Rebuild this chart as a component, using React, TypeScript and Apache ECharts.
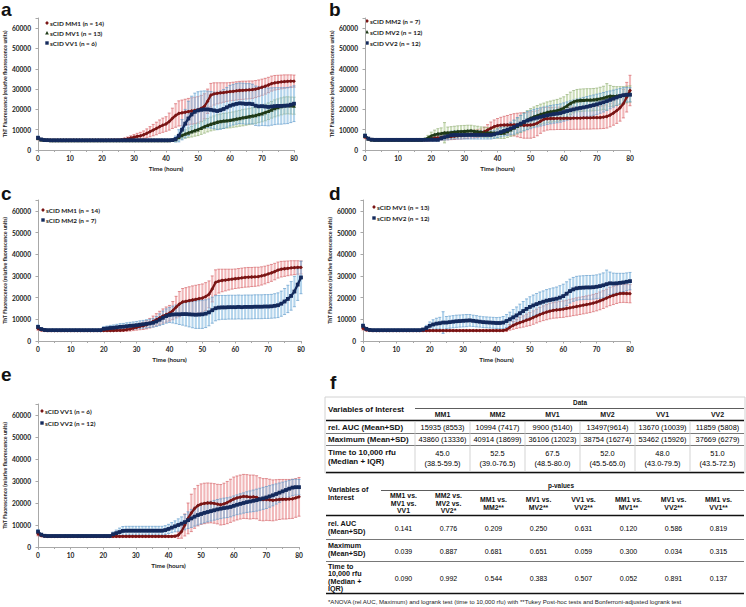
import React, { useEffect, useRef } from "react";
import * as echarts from "echarts";

// ---------- time axis (hours) ----------
const HOURS = Array.from({ length: 81 }, (_, i) => i);

// ---------- mean ThT fluorescence (rfu), hourly 0..80 ----------
const MM1_MEAN = [
  5800, 5100, 4900, 4850, 4800, 4800, 4800, 4800, 4800, 4800,
  4800, 4800, 4800, 4800, 4800, 4800, 4800, 4800, 4800, 4800,
  4800, 4800, 4850, 4850, 4900, 4900, 5000, 5200, 5500, 5900,
  6300, 6700, 7000, 7500, 8200, 9000, 9800, 10600, 11500, 12200,
  12800, 14000, 15600, 17000, 18000, 18300, 18600, 18900, 19200, 19500,
  19800, 20500, 21500, 24000, 27000, 27600, 27900, 28100, 28300, 28500,
  28700, 28900, 29100, 29300, 29400, 29500, 29600, 29700, 30000, 30400,
  30900, 31400, 32000, 32700, 33100, 33300, 33500, 33700, 33800, 33900,
  33900,
];
const MM1_SD = [
  800, 500, 400, 400, 400, 400, 400, 400, 400, 400,
  400, 400, 400, 400, 400, 400, 400, 400, 400, 400,
  400, 400, 450, 450, 500, 500, 550, 700, 900, 1100,
  1300, 1500, 1700, 1900, 2200, 2500, 2800, 3100, 3300, 3500,
  3600, 4200, 5000, 5800, 6200, 6300, 6400, 6500, 6500, 6500,
  6500, 6400, 6200, 6000, 5800, 5500, 5200, 5000, 4800, 4600,
  4500, 4500, 4500, 4500, 4500, 4400, 4400, 4300, 4200, 4100,
  4000, 3900, 3800, 3700, 3600, 3500, 3400, 3300, 3200, 3100,
  3000,
];
const MV1_MEAN = [
  5900, 5100, 4900, 4850, 4800, 4800, 4800, 4800, 4800, 4800,
  4800, 4800, 4800, 4800, 4800, 4800, 4800, 4800, 4800, 4800,
  4800, 4800, 4800, 4800, 4800, 4800, 4800, 4800, 4800, 4800,
  4800, 4800, 4800, 4800, 4800, 4800, 4800, 4800, 4800, 4800,
  4800, 4800, 4850, 5200, 6300, 7200, 7900, 8500, 9000, 9600,
  10100, 10800, 11500, 12200, 12800, 13300, 13800, 14100, 14300, 14500,
  14700, 15000, 15300, 15600, 15900, 16200, 16500, 16800, 17100, 17500,
  17900, 18500, 19100, 19800, 20500, 21000, 21500, 21900, 22000, 21900,
  21800,
];
const MV1_SD = [
  800, 500, 400, 400, 400, 400, 400, 400, 400, 400,
  400, 400, 400, 400, 400, 400, 400, 400, 400, 400,
  400, 400, 400, 400, 400, 400, 400, 400, 400, 400,
  400, 400, 400, 400, 400, 400, 400, 400, 400, 400,
  400, 400, 450, 800, 1300, 1800, 2100, 2400, 2600, 2800,
  3000, 3100, 3200, 3300, 3400, 3500, 3600, 3600, 3700, 3700,
  3800, 3800, 3900, 3900, 4000, 4000, 4000, 4000, 4000, 4000,
  4000, 4100, 4100, 4100, 4200, 4200, 4200, 4200, 4200, 4200,
  4200,
];
const VV1_MEAN = [
  6000, 5200, 4900, 4850, 4800, 4800, 4800, 4800, 4800, 4800,
  4800, 4800, 4800, 4800, 4800, 4800, 4800, 4800, 4800, 4800,
  4800, 4800, 4800, 4800, 4800, 4800, 4800, 4800, 4800, 4800,
  4800, 4800, 4800, 4800, 4800, 4800, 4800, 4800, 4800, 4800,
  4800, 4800, 4900, 5400, 7000, 10000, 13000, 15500, 17500, 18800,
  19500, 19800, 20000, 20000, 19800, 19500, 19200, 19600, 20200, 21000,
  21800, 22300, 22700, 23000, 22900, 22700, 22800, 22600, 21800, 21500,
  21600, 21400, 21200, 21400, 21600, 21700, 21700, 21800, 21900, 22300,
  22800,
];
const VV1_SD = [
  900, 500, 400, 400, 400, 400, 400, 400, 400, 400,
  400, 400, 400, 400, 400, 400, 400, 400, 400, 400,
  400, 400, 400, 400, 400, 400, 400, 400, 400, 400,
  400, 400, 400, 400, 400, 400, 400, 400, 400, 400,
  400, 400, 500, 1500, 3000, 5000, 7000, 8500, 9000, 9200,
  9200, 9200, 9100, 9000, 9000, 9000, 9200, 9400, 9600, 9800,
  10000, 10000, 10000, 10000, 10000, 10000, 9900, 9800, 9700, 9600,
  9500, 9400, 9300, 9200, 9100, 9000, 9000, 8900, 8900, 8800,
  8800,
];
const MM2_MEAN = [
  6500, 5500, 5100, 5000, 5000, 5000, 5000, 5000, 5000, 5000,
  5000, 5000, 5000, 5000, 5000, 5000, 5000, 5000, 5000, 5000,
  5600, 5800, 6000, 6100, 6300, 6500, 6600, 6800, 7000, 7100,
  7300, 7500, 7700, 7900, 8100, 8400, 9000, 9800, 10700, 11500,
  12000, 12200, 12300, 12300, 12400, 12400, 12300, 12200, 12100, 12200,
  12300, 12600, 13200, 14200, 15100, 15400, 15500, 15500, 15600, 15600,
  15600, 15700, 15600, 15700, 15700, 15700, 15800, 15800, 15800, 15900,
  15900, 16000, 16200, 16500, 17200, 18200, 19400, 20800, 22800, 26000,
  29300,
];
const MM2_SD = [
  900, 600, 500, 500, 500, 500, 500, 500, 500, 500,
  500, 500, 500, 500, 500, 500, 500, 500, 500, 500,
  1000, 1100, 1200, 1300, 1400, 1500, 1500, 1600, 1600, 1700,
  1700, 1800, 1800, 1900, 1900, 2000, 2300, 2700, 3100, 3300,
  3500, 3900, 4300, 4700, 5100, 5500, 5800, 6100, 6300, 6400,
  6500, 6400, 6200, 6000, 5800, 5600, 5500, 5500, 5500, 5500,
  5500, 5500, 5500, 5500, 5500, 5500, 5500, 5500, 5500, 5500,
  5500, 5500, 5600, 5700, 5800, 6000, 6300, 6600, 7000, 7300,
  7500,
];
const MV2_MEAN = [
  7000, 5600, 5100, 5000, 5000, 5000, 5000, 5000, 5000, 5000,
  5000, 5000, 5000, 5000, 5000, 5000, 5000, 5000, 5300, 6000,
  7000, 7600, 8000, 8200, 8500, 8500, 8700, 8900, 9100, 9200,
  9300, 9400, 9500, 9300, 9100, 8900, 8700, 8600, 8500, 8400,
  8300, 8300, 8500, 9200, 10000, 10900, 11800, 12800, 13800, 14800,
  15700, 16400, 17000, 17600, 18100, 18600, 18900, 19200, 19500, 20000,
  20700, 21800, 23000, 23800, 24300, 24500, 24600, 24700, 24700, 24800,
  25000, 25300, 25700, 26200, 26600, 26500, 26600, 26800, 27000, 27300,
  27600,
];
const MV2_SD = [
  900, 600, 500, 500, 500, 500, 500, 500, 500, 500,
  500, 500, 500, 500, 500, 500, 500, 500, 500, 1200,
  1800, 2200, 2500, 2700, 5000, 2800, 2800, 2800, 2800, 2800,
  2800, 2800, 2700, 2600, 2600, 2500, 2500, 2500, 2500, 2500,
  2500, 2600, 2800, 3000, 3300, 3600, 3900, 4200, 4400, 4600,
  4700, 4800, 4900, 5000, 5000, 5100, 5200, 5300, 5400, 5500,
  5500, 5500, 5500, 5500, 5500, 5500, 5500, 5500, 5500, 5500,
  5500, 5600, 5700, 6500, 5200, 4800, 4600, 4400, 4200, 4100,
  4000,
];
const VV2_MEAN = [
  7000, 5600, 5100, 5000, 5000, 5000, 5000, 5000, 5000, 5000,
  5000, 5000, 5000, 5000, 5000, 5000, 5000, 5000, 5000, 5000,
  5000, 5000, 5000, 5800, 6300, 6800, 7300, 7400, 7400, 7400,
  7400, 7400, 7400, 7400, 7400, 7400, 7400, 7400, 7400, 7700,
  8200, 8800, 9400, 10000, 10600, 11300, 12200, 13000, 13800, 14500,
  15000, 15500, 15900, 16300, 16700, 17100, 17400, 17700, 17900, 18200,
  18700, 19200, 19600, 20000, 20400, 20700, 21000, 21300, 21700, 22100,
  22500, 23000, 23500, 24100, 24700, 25300, 25900, 26500, 27000, 27200,
  27200,
];
const VV2_SD = [
  900, 600, 500, 500, 500, 500, 500, 500, 500, 500,
  500, 500, 500, 500, 500, 500, 500, 500, 500, 500,
  500, 500, 500, 1000, 1400, 1800, 2000, 2000, 2000, 2000,
  2000, 2000, 2000, 2000, 2000, 2000, 2000, 2000, 2000, 2000,
  2100, 2300, 2500, 2800, 3100, 3500, 3800, 4100, 4300, 4500,
  4500, 4500, 4500, 4500, 4500, 4500, 4500, 4500, 4500, 4500,
  4500, 4500, 4600, 4600, 4700, 4800, 4900, 5000, 5000, 5000,
  5000, 4900, 4800, 4600, 4400, 4200, 4000, 3800, 3700, 3600,
  3500,
];

// ---------- axis ticks ----------
const Y_MAX = 65000;
const Y_STEP = 10000;
const X_MAX = 80;
const X_STEP = 10;

// ---------- legends ----------
const LEGEND_A = ["sCID MM1 (n = 14)", "sCID MV1 (n = 13)", "sCID VV1 (n = 6)"];
const LEGEND_B = ["sCID MM2 (n = 7)", "sCID MV2 (n = 12)", "sCID VV2 (n = 12)"];
const LEGEND_C = ["sCID MM1 (n = 14)", "sCID MM2 (n = 7)"];
const LEGEND_D = ["sCID MV1 (n = 13)", "sCID MV2 (n = 12)"];
const LEGEND_E = ["sCID VV1 (n = 6)", "sCID VV2 (n = 12)"];

const Y_NAME = "ThT Fluorescence (relative fluorescence units)";
const X_NAME = "Time (hours)";

// ---------- table f (data) ----------
const T1_COLS = ["MM1", "MM2", "MV1", "MV2", "VV1", "VV2"];
const T1_AUC = ["15935 (8553)", "10994 (7417)", "9900 (5140)", "13497(9614)", "13670 (10039)", "11859 (5808)"];
const T1_MAX = ["43860 (13336)", "40914 (18699)", "36106 (12023)", "38754 (16274)", "53462 (15926)", "37669 (6279)"];
const T1_TIME_MED = ["45.0", "52.5", "67.5", "52.0", "48.0", "51.0"];
const T1_TIME_IQR = ["(38.5-59.5)", "(39.0-76.5)", "(48.5-80.0)", "(45.5-65.0)", "(43.0-79.5)", "(43.5-72.5)"];

// ---------- table f (p-values) ----------
const T2_HEADERS = [
  ["MM1 vs.", "MV1 vs.", "VV1"],
  ["MM2 vs.", "MV2 vs.", "VV2*"],
  ["MM1 vs.", "MM2**"],
  ["MV1 vs.", "MV2**"],
  ["VV1 vs.", "VV2**"],
  ["MM1 vs.", "MV1**"],
  ["MV1 vs.", "VV2**"],
  ["MM1 vs.", "VV1**"],
];
const P_AUC = ["0.141", "0.776", "0.209", "0.250", "0.631", "0.120", "0.586", "0.819"];
const P_MAX = ["0.039", "0.887", "0.681", "0.651", "0.059", "0.300", "0.034", "0.315"];
const P_TIME = ["0.090", "0.992", "0.544", "0.383", "0.507", "0.052", "0.891", "0.137"];
const FOOTNOTE =
  "*ANOVA (rel AUC, Maximum) and logrank test (time to 10,000 rfu) with **Tukey Post-hoc tests and Bonferroni-adjusted logrank test";

// ---------- styles ----------
const STYLES: Record<string, { line: string; band: string; cap: string; symbol: string }> = {
  red: { line: "#7a1515", band: "rgba(232,138,142,0.62)", cap: "rgba(210,90,95,0.8)", symbol: "diamond" },
  green: { line: "#1f3a18", band: "rgba(178,204,150,0.65)", cap: "rgba(140,170,110,0.8)", symbol: "triangle" },
  navy: { line: "#142a5c", band: "rgba(128,184,224,0.6)", cap: "rgba(90,150,200,0.8)", symbol: "rect" },
};

const DATA: Record<string, { mean: number[]; sd: number[] }> = {
  MM1: { mean: MM1_MEAN, sd: MM1_SD },
  MV1: { mean: MV1_MEAN, sd: MV1_SD },
  VV1: { mean: VV1_MEAN, sd: VV1_SD },
  MM2: { mean: MM2_MEAN, sd: MM2_SD },
  MV2: { mean: MV2_MEAN, sd: MV2_SD },
  VV2: { mean: VV2_MEAN, sd: VV2_SD },
};

type Panel = {
  letter: string;
  letterX: number;
  letterBase: number;
  grid: { left: number; top: number; width: number; height: number };
  legend: { mx: number; tx: number; ys: number[] };
  names: string[];
  series: { key: string; style: string }[];
};

const PANELS: Panel[] = [
  {
    letter: "a", letterX: 1, letterBase: 15,
    grid: { left: 38, top: 18, width: 256, height: 132 },
    legend: { mx: 47, tx: 50, ys: [23, 33, 43] },
    names: LEGEND_A,
    series: [{ key: "MM1", style: "red" }, { key: "MV1", style: "green" }, { key: "VV1", style: "navy" }],
  },
  {
    letter: "b", letterX: 329, letterBase: 15,
    grid: { left: 365, top: 18, width: 265, height: 132 },
    legend: { mx: 367, tx: 370, ys: [21, 32, 43] },
    names: LEGEND_B,
    series: [{ key: "MM2", style: "red" }, { key: "MV2", style: "green" }, { key: "VV2", style: "navy" }],
  },
  {
    letter: "c", letterX: 1, letterBase: 199,
    grid: { left: 38, top: 200, width: 263, height: 141 },
    legend: { mx: 43, tx: 46, ys: [210, 220] },
    names: LEGEND_C,
    series: [{ key: "MM1", style: "red" }, { key: "MM2", style: "navy" }],
  },
  {
    letter: "d", letterX: 329, letterBase: 199,
    grid: { left: 363, top: 200, width: 267, height: 141 },
    legend: { mx: 374, tx: 377, ys: [207, 218] },
    names: LEGEND_D,
    series: [{ key: "MV1", style: "red" }, { key: "MV2", style: "navy" }],
  },
  {
    letter: "e", letterX: 1, letterBase: 380,
    grid: { left: 38, top: 404, width: 261, height: 143 },
    legend: { mx: 42, tx: 45, ys: [411, 423] },
    names: LEGEND_E,
    series: [{ key: "VV1", style: "red" }, { key: "VV2", style: "navy" }],
  },
];

const AXIS_FONT = "Lato";
const TABLE_FONT = "Liberation Sans";

function makeErrorRender(color: string, capColor: string) {
  return (_params: any, api: any) => {
    const x = api.value(0);
    const lo = api.coord([x, api.value(1)]);
    const hi = api.coord([x, api.value(2)]);
    const cap = 1.5;
    return {
      type: "group",
      children: [
        { type: "line", shape: { x1: lo[0], y1: lo[1], x2: hi[0], y2: hi[1] }, style: { stroke: color, lineWidth: 2.1 } },
        { type: "line", shape: { x1: hi[0] - cap, y1: hi[1], x2: hi[0] + cap, y2: hi[1] }, style: { stroke: capColor, lineWidth: 0.8 } },
        { type: "line", shape: { x1: lo[0] - cap, y1: lo[1], x2: lo[0] + cap, y2: lo[1] }, style: { stroke: capColor, lineWidth: 0.8 } },
      ],
    };
  };
}

function txt(x: number, y: number, text: string, font: string, align = "left", fill = "#111", vAlign = "middle") {
  return {
    type: "text",
    x,
    y,
    silent: true,
    style: { text, font, fill, textAlign: align, textVerticalAlign: vAlign },
  };
}
function hline(x1: number, x2: number, y: number, lw: number, stroke = "#222") {
  return { type: "line", silent: true, shape: { x1, y1: y, x2, y2: y }, style: { stroke, lineWidth: lw } };
}
function vline(x: number, y1: number, y2: number, lw: number, stroke = "#bbb") {
  return { type: "line", silent: true, shape: { x1: x, y1, x2: x, y2 }, style: { stroke, lineWidth: lw } };
}

function legendMarker(style: string, cx: number, cy: number) {
  const c = STYLES[style].line;
  if (style === "red")
    return { type: "polygon", silent: true, shape: { points: [[cx, cy - 1.9], [cx + 1.9, cy], [cx, cy + 1.9], [cx - 1.9, cy]] }, style: { fill: c } };
  if (style === "green")
    return { type: "polygon", silent: true, shape: { points: [[cx, cy - 1.9], [cx + 1.9, cy + 1.5], [cx - 1.9, cy + 1.5]] }, style: { fill: c } };
  return { type: "rect", silent: true, shape: { x: cx - 1.7, y: cy - 1.7, width: 3.4, height: 3.4 }, style: { fill: c } };
}

function buildOption() {
  const grid: any[] = [];
  const xAxis: any[] = [];
  const yAxis: any[] = [];
  const series: any[] = [];
  const graphic: any[] = [];

  PANELS.forEach((p, gi) => {
    grid.push({ ...p.grid, containLabel: false });
    xAxis.push({
      type: "value",
      gridIndex: gi,
      min: 0,
      max: X_MAX,
      interval: X_STEP,
      name: X_NAME,
      nameLocation: "middle",
      nameGap: 15,
      nameTextStyle: { fontFamily: AXIS_FONT, fontWeight: "bold", fontSize: 6.3, color: "#222" },
      axisLine: { show: true, lineStyle: { color: "#a8a8a8", width: 1 } },
      axisTick: { show: true, length: 2.5, lineStyle: { color: "#a8a8a8" } },
      minorTick: { show: true, splitNumber: 2, length: 2, lineStyle: { color: "#a8a8a8" } },
      splitLine: { show: false },
      axisLabel: { margin: 4, fontFamily: AXIS_FONT, fontWeight: "bold", fontSize: 6.6, color: "#222" },
    });
    yAxis.push({
      type: "value",
      gridIndex: gi,
      min: 0,
      max: Y_MAX,
      interval: Y_STEP,
      name: Y_NAME,
      nameLocation: "middle",
      nameGap: 26,
      nameRotate: 90,
      nameTextStyle: { fontFamily: AXIS_FONT, fontWeight: "bold", fontSize: 5.3, color: "#222" },
      axisLine: { show: true, lineStyle: { color: "#a8a8a8", width: 1 } },
      axisTick: { show: true, length: 2.5, lineStyle: { color: "#a8a8a8" } },
      splitLine: { show: false },
      axisLabel: {
        margin: 7,
        fontFamily: AXIS_FONT,
        fontWeight: "bold",
        fontSize: 6.6,
        color: "#222",
        formatter: (v: number) => (v % Y_STEP === 0 ? String(v) : ""),
      },
    });

    p.series.forEach((s) => {
      const d = DATA[s.key];
      const st = STYLES[s.style];
      series.push({
        type: "custom",
        xAxisIndex: gi,
        yAxisIndex: gi,
        silent: true,
        z: 1,
        renderItem: makeErrorRender(st.band, st.cap),
        encode: { x: 0, y: [1, 2] },
        data: HOURS.map((t, i) => [t, d.mean[i] - d.sd[i], d.mean[i] + d.sd[i]]),
      });
    });
    p.series.forEach((s, si) => {
      const d = DATA[s.key];
      const st = STYLES[s.style];
      series.push({
        type: "line",
        name: p.names[si],
        xAxisIndex: gi,
        yAxisIndex: gi,
        z: 3,
        symbol: st.symbol,
        symbolSize: 3.8,
        showSymbol: true,
        lineStyle: { color: st.line, width: 2.3 },
        itemStyle: { color: st.line },
        data: HOURS.map((t, i) => [t, d.mean[i]]),
      });
    });

    // panel letter
    graphic.push(txt(p.letterX, p.letterBase + 4, p.letter, `bold 19px "${TABLE_FONT}"`, "left", "#111", "bottom"));
    // legend
    p.series.forEach((s, si) => {
      graphic.push(legendMarker(s.style, p.legend.mx, p.legend.ys[si]));
      graphic.push(txt(p.legend.tx, p.legend.ys[si], p.names[si], `bold 6.4px ${AXIS_FONT}`, "left", "#1a1a1a"));
    });
  });

  // ---------- panel f: tables ----------
  graphic.push(txt(330, 392, "f", `bold 19px "${TABLE_FONT}"`, "left", "#111", "bottom"));

  const F1 = `"${TABLE_FONT}"`;
  // table 1
  const t1Left = 326;
  const t1Right = 744;
  const t1ColX0 = 415;
  const t1ColW = 55;
  graphic.push({ type: "rect", silent: true, shape: { x: 325, y: 397, width: 420, height: 76 }, style: { fill: "none", stroke: "#d2d2d2", lineWidth: 1 } });
  graphic.push(txt(328, 409, "Variables of Interest", `bold 8px ${F1}`));
  graphic.push(txt(t1ColX0 + (t1ColW * 6) / 2, 402.5, "Data", `bold 6.4px ${F1}`, "center"));
  graphic.push(hline(t1ColX0, t1Right, 408.5, 0.8, "#333"));
  T1_COLS.forEach((c, i) => graphic.push(txt(t1ColX0 + t1ColW * (i + 0.5), 414.5, c, `bold 7px ${F1}`, "center")));
  graphic.push(hline(t1Left, t1Right, 420.5, 1.6, "#111"));
  graphic.push(txt(328, 427, "rel. AUC (Mean+SD)", `bold 8px ${F1}`));
  T1_AUC.forEach((v, i) => graphic.push(txt(t1ColX0 + t1ColW * (i + 0.5), 427, v, `7.4px ${F1}`, "center", "#000")));
  graphic.push(hline(t1Left, t1Right, 433.5, 0.8, "#555"));
  graphic.push(txt(328, 439.5, "Maximum (Mean+SD)", `bold 8px ${F1}`));
  T1_MAX.forEach((v, i) => graphic.push(txt(t1ColX0 + t1ColW * (i + 0.5), 439.5, v, `7.4px ${F1}`, "center", "#000")));
  graphic.push(hline(t1Left, t1Right, 445.5, 0.8, "#555"));
  graphic.push(txt(328, 452, "Time to 10,000 rfu", `bold 8px ${F1}`));
  graphic.push(txt(328, 461, "(Median + IQR)", `bold 8px ${F1}`));
  T1_TIME_MED.forEach((v, i) => graphic.push(txt(t1ColX0 + t1ColW * (i + 0.5), 453, v, `7.4px ${F1}`, "center", "#000")));
  T1_TIME_IQR.forEach((v, i) => graphic.push(txt(t1ColX0 + t1ColW * (i + 0.5), 463, v, `7.4px ${F1}`, "center", "#000")));
  graphic.push(hline(t1Left, t1Right, 472.5, 1.6, "#111"));
  for (let i = 0; i < 6; i++) graphic.push(vline(t1ColX0 + t1ColW * i, 421, 472, 0.8, "#c8c8c8"));

  // table 2
  const t2ColX0 = 381;
  const t2ColW = 45;
  graphic.push(txt(t2ColX0 + (t2ColW * 8) / 2, 485.5, "p-values", `bold 6.4px ${F1}`, "center"));
  graphic.push(hline(t2ColX0, t1Right, 490.5, 0.8, "#333"));
  graphic.push(txt(328, 489, "Variables of", `bold 7.2px ${F1}`));
  graphic.push(txt(328, 497, "Interest", `bold 7.2px ${F1}`));
  T2_HEADERS.forEach((lines, i) => {
    const cx = t2ColX0 + t2ColW * (i + 0.5);
    const ys = lines.length === 3 ? [495.5, 503, 510.5] : [499.5, 507];
    lines.forEach((l, k) => graphic.push(txt(cx, ys[k], l, `bold 6.9px ${F1}`, "center")));
  });
  graphic.push(hline(t1Left, t1Right, 515.5, 1.6, "#111"));
  graphic.push(txt(328, 523, "rel. AUC", `bold 7.2px ${F1}`));
  graphic.push(txt(328, 531, "(Mean+SD)", `bold 7.2px ${F1}`));
  P_AUC.forEach((v, i) => graphic.push(txt(t2ColX0 + t2ColW * (i + 0.5), 528, v, `7px ${F1}`, "center", "#000")));
  graphic.push(hline(t1Left, t1Right, 539.5, 0.8, "#555"));
  graphic.push(txt(328, 545.5, "Maximum", `bold 7.2px ${F1}`));
  graphic.push(txt(328, 553.5, "(Mean+SD)", `bold 7.2px ${F1}`));
  P_MAX.forEach((v, i) => graphic.push(txt(t2ColX0 + t2ColW * (i + 0.5), 551, v, `7px ${F1}`, "center", "#000")));
  graphic.push(hline(t1Left, t1Right, 561.5, 0.8, "#555"));
  graphic.push(txt(328, 566, "Time to", `bold 7.2px ${F1}`));
  graphic.push(txt(328, 573.5, "10,000 rfu", `bold 7.2px ${F1}`));
  graphic.push(txt(328, 581, "(Median +", `bold 7.2px ${F1}`));
  graphic.push(txt(328, 588.5, "IQR)", `bold 7.2px ${F1}`));
  P_TIME.forEach((v, i) => graphic.push(txt(t2ColX0 + t2ColW * (i + 0.5), 578, v, `7px ${F1}`, "center", "#000")));
  graphic.push(hline(t1Left, t1Right, 593.5, 1.6, "#111"));
  graphic.push(txt(328, 601.5, FOOTNOTE, `6.1px ${F1}`, "left", "#222"));

  return {
    animation: false,
    backgroundColor: "#ffffff",
    grid,
    xAxis,
    yAxis,
    series,
    graphic: { elements: graphic },
  };
}

export default function App() {
  const ref = useRef<HTMLDivElement | null>(null);
  useEffect(() => {
    document.body.style.margin = "0";
    if (!ref.current) return;
    const chart = echarts.init(ref.current, undefined, { renderer: "svg" });
    chart.setOption(buildOption() as any);
    return () => chart.dispose();
  }, []);
  return <div ref={ref} style={{ width: 746, height: 607, position: "absolute", left: 0, top: 0 }} />;
}
